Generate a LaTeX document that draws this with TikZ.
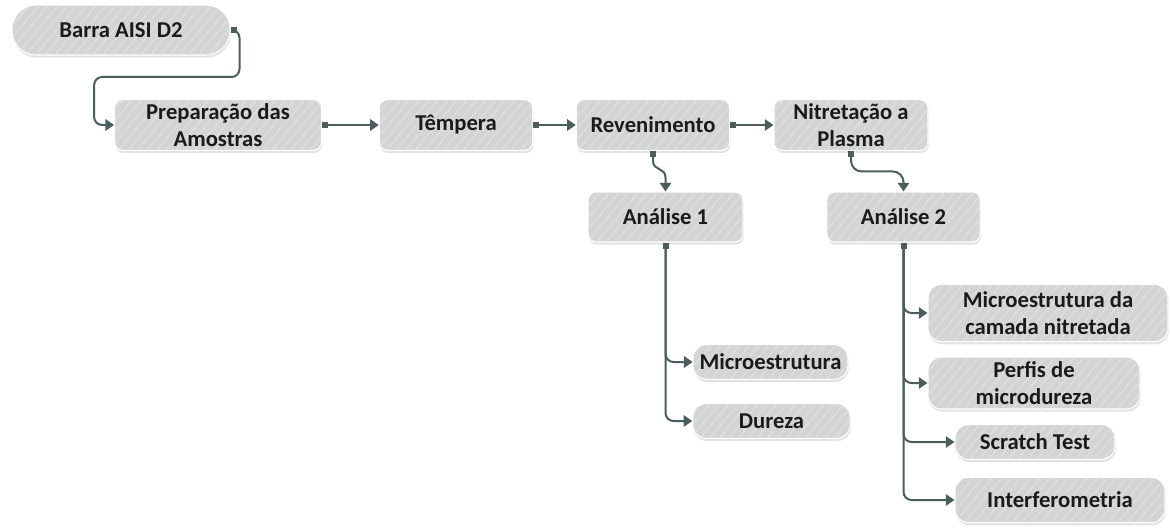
\documentclass[tikz,border=0pt]{standalone}
\usepackage{fontspec}
\setmainfont{Carlito}
\usetikzlibrary{arrows.meta,patterns.meta,shadows,calc}
\definecolor{boxgray}{HTML}{D3D5D5}
\definecolor{stripe}{HTML}{E3E4E4}
\definecolor{linecol}{HTML}{4B5D5D}
\definecolor{txt}{HTML}{1A1A1A}
\tikzset{
  box/.style={draw=white, line width=0.8pt, rounded corners=6pt, fill=boxgray,
    inner sep=0pt, align=center, text=txt, font=\fontsize{17}{20.5}\selectfont\bfseries,
    drop shadow={shadow xshift=0.6pt, shadow yshift=-2pt, opacity=0.22, fill=gray},
    postaction={pattern={Lines[angle=50,distance=5.5pt,line width=0.6pt]}, pattern color=stripe}},
  conn/.style={draw=linecol, line width=1.5pt, rounded corners=6pt,
    {Square[length=4.5pt,width=4.5pt]}-{Triangle[length=6.5pt,width=8.5pt]}}
}
\begin{document}
\begin{tikzpicture}[x=0.75pt,y=-0.75pt]
\useasboundingbox (0,0) rectangle (1170,531);
\node[box, rounded corners=18pt, minimum width=163.5pt, minimum height=37.5pt] (barra) at (121,30) {Barra AISI D2};
\node[box, minimum width=155pt, minimum height=38pt] (prep) at (218,125) {Preparação das\\Amostras};
\node[box, minimum width=115pt, minimum height=38pt] (temp) at (456,125) {Têmpera};
\node[box, minimum width=115pt, minimum height=38pt] (rev) at (653,125) {Revenimento};
\node[box, minimum width=115.5pt, minimum height=38pt] (nit) at (851,125) {Nitretação a\\Plasma};
\node[box, minimum width=116pt, minimum height=37.5pt] (an1) at (665.5,217) {Análise 1};
\node[box, minimum width=115pt, minimum height=37.5pt] (an2) at (903.5,217) {Análise 2};
\node[box, rounded corners=10pt, minimum width=116pt, minimum height=26pt] (micro) at (770.5,362) {Microestrutura};
\node[box, rounded corners=10pt, minimum width=118pt, minimum height=26pt] (dur) at (771.5,421) {Dureza};
\node[box, rounded corners=10pt, minimum width=180pt, minimum height=43pt] (camada) at (1048,313) {Microestrutura da\\camada nitretada};
\node[box, rounded corners=10pt, minimum width=159pt, minimum height=39pt] (perf) at (1034,383) {Perfis de\\microdureza};
\node[box, rounded corners=10pt, minimum width=120pt, minimum height=26pt] (scr) at (1035,442) {Scratch Test};
\node[box, rounded corners=10pt, minimum width=157.5pt, minimum height=34pt] (int) at (1060,500) {Interferometria};

\draw[conn] (barra.east) -- ++(9,0) |- ($(prep.west)+(-20,-48)$) |- (prep.west);
\draw[conn] (prep.east) -- (temp.west);
\draw[conn] (temp.east) -- (rev.west);
\draw[conn] (rev.east) -- (nit.west);
\draw[conn, rounded corners=0pt] (rev.south) -- ++(0,10) .. controls +(0,10) and +(0,-10) .. ($(an1.north)+(0,-14)$) -- (an1.north);
\draw[conn, rounded corners=8pt] (nit.south) |- ($(an2.north)+(0,-20)$) -- (an2.north);
\draw[conn] (an1.south) |- (micro.west);
\draw[conn] (an1.south) |- (dur.west);
\draw[conn] (an2.south) |- (camada.west);
\draw[conn] (an2.south) |- (perf.west);
\draw[conn] (an2.south) |- (scr.west);
\draw[conn] (an2.south) |- (int.west);
\end{tikzpicture}
\end{document}
